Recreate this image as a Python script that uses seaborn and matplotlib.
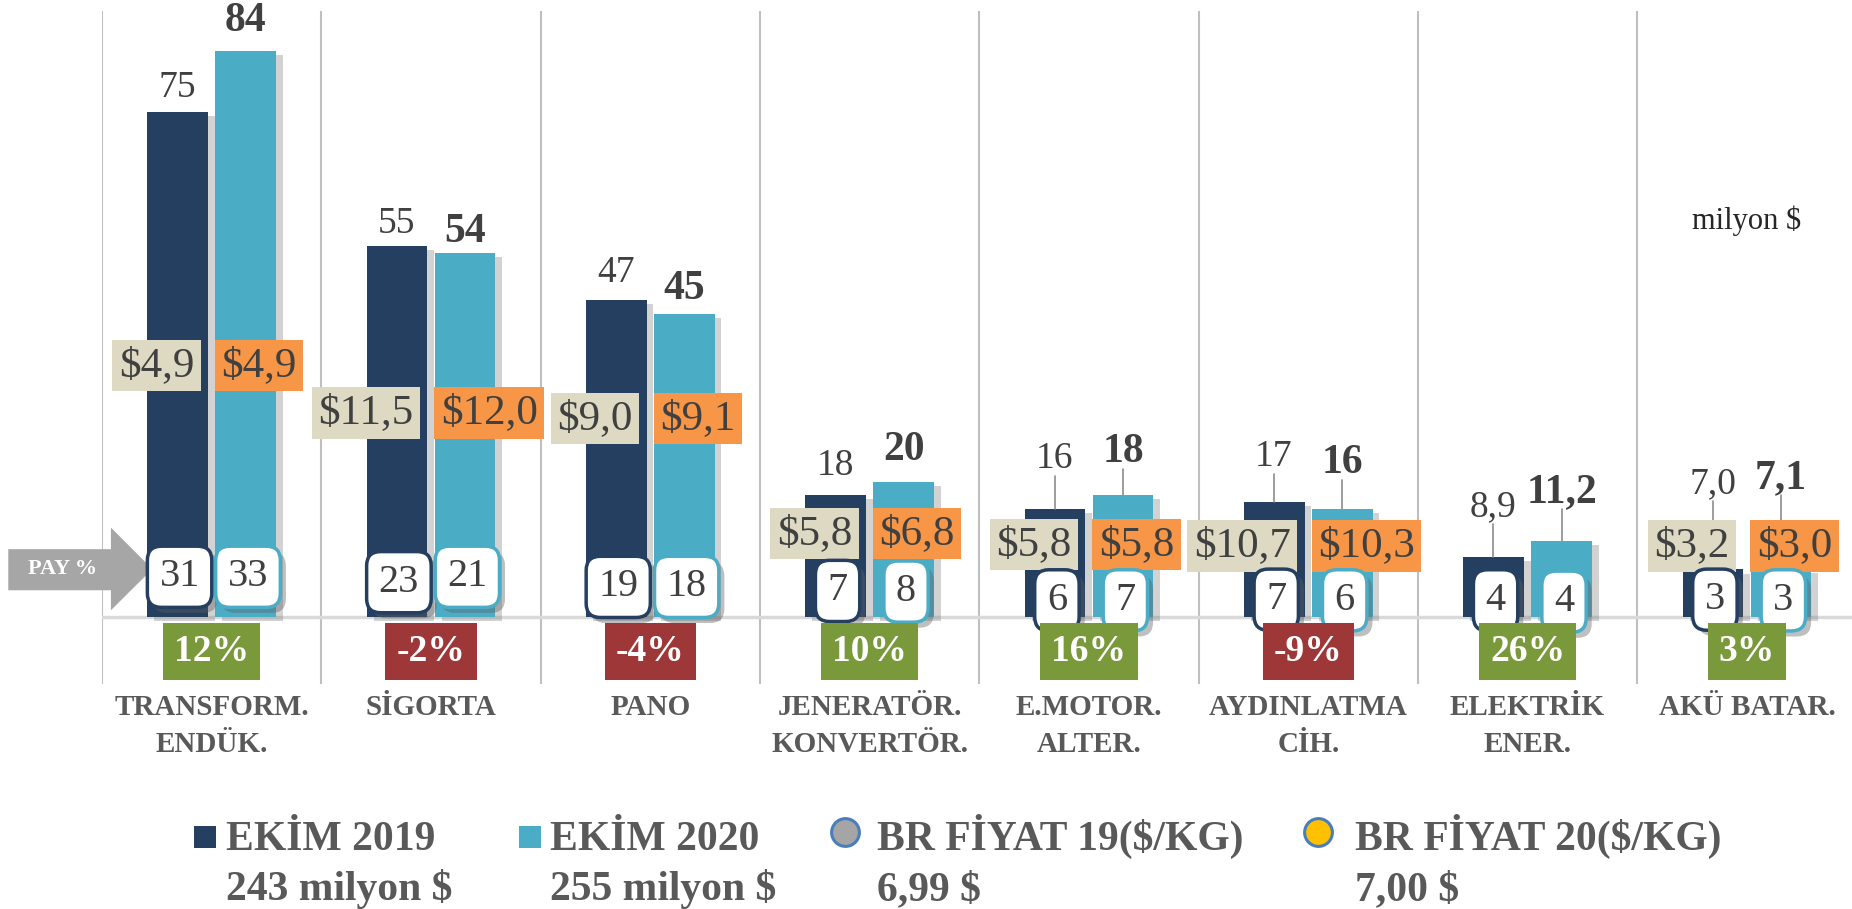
import numpy as np
import pandas as pd
import matplotlib
matplotlib.use('Agg')
import matplotlib.pyplot as plt
import matplotlib.patheffects as pe
from matplotlib.patches import Polygon, Rectangle
from matplotlib.lines import Line2D
import seaborn as sns

# --- data ---
categories = ['TRANSFORM.\nENDÜK.', 'SİGORTA', 'PANO', 'JENERATÖR.\nKONVERTÖR.',
              'E.MOTOR.\nALTER.', 'AYDINLATMA\nCİH.', 'ELEKTRİK\nENER.', 'AKÜ BATAR.']
years = ['EKİM 2019', 'EKİM 2020']
exports_2019 = [75, 55, 47, 18, 16, 17, 8.9, 7.0]
exports_2020 = [84, 54, 45, 20, 18, 16, 11.2, 7.1]
share_2019 = [31, 23, 19, 7, 6, 7, 4, 3]
share_2020 = [33, 21, 18, 8, 7, 6, 4, 3]
price_2019 = [4.9, 11.5, 9.0, 5.8, 5.8, 10.7, np.nan, 3.2]
price_2020 = [4.9, 12.0, 9.1, 6.8, 5.8, 10.3, np.nan, 3.0]
change_pct = [12, -2, -4, 10, 16, -9, 26, 3]
totals = ['243 milyon $', '255 milyon $']
avg_price = ['6,99 $', '7,00 $']
price_names = ['BR FİYAT 19($/KG)', 'BR FİYAT 20($/KG)']

# --- layout (label placement, not data) ---
value_offset_19 = [3.6, 3.3, 4.0, 4.4, 7.4, 6.7, 7.3, 12.7]
value_offset_20 = [4.4, 3.1, 3.6, 4.7, 6.4, 6.8, 7.2, 13.4]
share_y_19 = [5.9, 5.1, 4.4, 3.8, 2.4, 2.5, 2.4, 2.5]
share_y_20 = [5.9, 5.9, 4.4, 3.7, 2.4, 2.4, 2.2, 2.4]
price_y = [37.3, 30.2, 29.4, 12.3, 10.7, 10.5, np.nan, 10.5]

DARK = '#253F61'
LIGHT = '#4BACC6'
BEIGE = '#DDD9C3'
ORANGE = '#F79646'
GREEN = '#7A993A'
RED = '#9E3838'
TXT = '#404040'
LAB = '#595959'

sns.set_theme(style='white')
plt.rcParams['font.family'] = ['Liberation Serif', 'DejaVu Serif']

df = pd.DataFrame({
    'kategori': categories * 2,
    'yil': [years[0]] * len(categories) + [years[1]] * len(categories),
    'deger': exports_2019 + exports_2020,
})

fig = plt.figure(figsize=(18.52, 9.09), dpi=100)
ax = fig.add_axes([86.3 / 1568, 0.2477, (1568 - 86.3) / 1568, 0.9884 - 0.2477])

sns.barplot(data=df, x='kategori', y='deger', hue='yil', palette=[DARK, LIGHT],
            width=0.62, gap=0.11, saturation=1, linewidth=0, legend=False,
            ax=ax, zorder=2)

# soft drop shadow on the bars
for p in ax.patches:
    p.set_path_effects([pe.SimplePatchShadow(offset=(5, -3), shadow_rgbFace='#808080', alpha=0.35),
                        pe.Normal()])

ax.set_xlim(-0.5, -0.5 + (1568 - 86.3) / 185.7)
ax.set_ylim(-10, 90)
sns.despine(ax=ax, left=True, bottom=True)
ax.set_yticks([])
ax.set_xlabel('')
ax.set_ylabel('')
ax.tick_params(axis='x', length=0, pad=7)
ax.set_xticks(range(len(categories)))
ax.set_xticklabels(categories, fontsize=21, fontweight='bold', color=LAB, linespacing=1.5)

# separators + baseline
for k in range(len(categories)):
    ax.axvline(k - 0.5, color='#BFBFBF', lw=1.5, zorder=0)
ax.axhline(0, color='#D9D9D9', lw=2.5, zorder=1)

off = 0.156
for i in range(len(categories)):
    for sign, val, voff, bold in [(-1, exports_2019[i], value_offset_19[i], False),
                                  (1, exports_2020[i], value_offset_20[i], True)]:
        x = i + sign * off
        txt = f"{val:.1f}".replace('.', ',') if val < 12 else f"{val:.0f}"
        y = val + voff
        ax.text(x, y, txt, ha='center', va='center', fontsize=30 if bold else 27,
                fontweight='bold' if bold else 'normal', color=TXT, zorder=6)
        if voff > 5:
            ax.plot([x, x], [val, y - 2.5], color='#8C8C8C', lw=1.2, zorder=2.5)

    # unit price boxes
    if not np.isnan(price_2019[i]):
        ax.text(i - 0.08, price_y[i], f"${price_2019[i]:.1f}".replace('.', ','), ha='right',
                va='center', fontsize=31, color=TXT, zorder=4,
                bbox=dict(boxstyle='square,pad=0.15', fc=BEIGE, ec='none'))
        ax.text(i + 0.045, price_y[i], f"${price_2020[i]:.1f}".replace('.', ','), ha='left',
                va='center', fontsize=31, color=TXT, zorder=4,
                bbox=dict(boxstyle='square,pad=0.15', fc=ORANGE, ec='none'))

    # share boxes
    for sign, sh, sy, col in [(-1, share_2019[i], share_y_19[i], DARK),
                              (1, share_2020[i], share_y_20[i], LIGHT)]:
        t = ax.text(i + sign * off + 0.01, sy, str(sh), ha='center', va='center', fontsize=29,
                    color=TXT, zorder=5,
                    bbox=dict(boxstyle='round,pad=0.3,rounding_size=0.35', fc='white',
                              ec=col, lw=2.5))
        t.get_bbox_patch().set_path_effects([
            pe.SimplePatchShadow(offset=(4, -4), shadow_rgbFace='#606060', alpha=0.4), pe.Normal()])

    # change badges
    c = change_pct[i]
    ax.text(i, -5.2, f"{c}%", ha='center', va='center', fontsize=27, fontweight='bold',
            color='white', zorder=5,
            bbox=dict(boxstyle='square,pad=0.3', fc=GREEN if c >= 0 else RED, ec='none'))

# PAY % arrow
arrow = Polygon([[-0.927, 10.0], [-0.459, 10.0], [-0.459, 13.2], [-0.27, 7.05],
                 [-0.459, 0.93], [-0.459, 3.9], [-0.927, 3.9]],
                closed=True, fc='#A6A6A6', ec='none', clip_on=False, zorder=3)
ax.add_patch(arrow)
ax.text(-0.68, 7.0, 'PAY %', ha='center', va='center', fontsize=16, fontweight='bold',
        color='white', clip_on=False, zorder=4)

ax.text(7.0, 58.8, 'milyon $', ha='center', va='center', fontsize=22, color='#262626')

# legend, drawn in figure pixels
def fx(px):
    return px / 1852

def fy(py):
    return 1 - py / 909

for x0, col in [(194, DARK), (519, LIGHT)]:
    fig.add_artist(Rectangle((fx(x0), fy(848)), 22 / 1852, 22 / 909,
                             transform=fig.transFigure, fc=col, ec='none'))
for xc, col in [(845, '#A5A5A5'), (1318, '#FFC000')]:
    fig.add_artist(Line2D([fx(xc)], [fy(832)], marker='o', ms=20, mfc=col, mec='#4A7EBB',
                          mew=2.2, transform=fig.transFigure))

legend_x = [226, 550, 877, 1355]
line1 = years + price_names
line2 = totals + avg_price
for x0, a, b in zip(legend_x, line1, line2):
    fig.text(fx(x0), fy(850), a, ha='left', va='baseline', fontsize=30, fontweight='bold', color=LAB)
    fig.text(fx(x0), fy(900), b, ha='left', va='baseline', fontsize=30, fontweight='bold', color=LAB)

fig.savefig('out.png', dpi=100)
